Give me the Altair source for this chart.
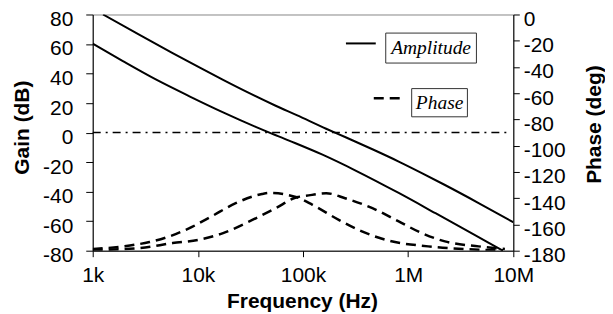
import altair as alt
import pandas as pd

# ---- data ----
freq_hi = [1253, 2818, 5754, 10233, 17378, 30903, 54954, 87096, 165959, 251189, 457088, 812831, 1348963, 2238721, 4677351, 10000000]
gain_hi = [80, 66.0, 53.9, 44.3, 35.7, 26.7, 18.2, 11.8, 2.6, -3.0, -11.3, -19.6, -27.4, -35.5, -47.7, -60.7]

freq_lo = [1000, 1936, 3981, 8318, 17179, 35481, 44259, 73621, 151356, 316228, 812831, 1819701, 4365158, 6918310, 7943282]
gain_lo = [60.2, 48.4, 36.0, 24.6, 13.9, 3.9, 1.0, -5.4, -14.8, -25.7, -40.9, -54.6, -69.6, -77.6, -80]

pfreq_lo = [1000, 1950, 3467, 5370, 8318, 13804, 22909, 40738, 47863, 87096, 123027, 218776, 363078, 660693, 1548817, 4677351, 8000000]
phase_lo = [-178.7, -176.7, -173.4, -169.1, -162.8, -153.4, -143.8, -136.8, -136.0, -139.3, -145, -156.5, -165.3, -172.4, -176.7, -179.2, -179.7]

pfreq_hi = [1000, 2818, 5754, 10233, 17378, 30903, 54954, 87096, 107152, 165959, 251189, 457088, 812831, 1348963, 2238721, 4677351, 8317638]
phase_hi = [-179.5, -178, -174.2, -171.7, -166.6, -157.7, -147.6, -139.3, -138.2, -136.2, -140, -147.6, -157.7, -166.6, -172.9, -176.7, -178.7]

x_ticks = [1000, 10000, 100000, 1000000, 10000000]
gain_ticks = [-80, -60, -40, -20, 0, 20, 40, 60, 80]
phase_ticks = [-180, -160, -140, -120, -100, -80, -60, -40, -20, 0]

# legend placement (in data units)
leg_labels = ["Amplitude", "Phase"]
leg_box_f = [612000, 1080000]
leg_box_f2 = [4460000, 3660000]
leg_box_g = [67.4, 29.8]
leg_box_g2 = [47.1, 10.7]
leg_text_f = [1652000, 1991000]
leg_text_g = [57.2, 20.3]
leg_line_f = [256000, 471000]
leg_line_f2 = [492000, 849000]
leg_line_g = [60.4, 23.3]

zero_f = [1000]
zero_f2 = [8600000]
zero_g = [0]

# ---- tables ----
amp = pd.concat([
    pd.DataFrame({"f": freq_hi, "gain": gain_hi, "s": "hi"}),
    pd.DataFrame({"f": freq_lo, "gain": gain_lo, "s": "lo"}),
])
ph = pd.concat([
    pd.DataFrame({"f": pfreq_lo, "phase": phase_lo, "s": "lo"}),
    pd.DataFrame({"f": pfreq_hi, "phase": phase_hi, "s": "hi"}),
])
zero_df = pd.DataFrame({"f": zero_f, "f2": zero_f2, "gain": zero_g})
box_df = pd.DataFrame({"f": leg_box_f, "f2": leg_box_f2, "gain": leg_box_g, "g2": leg_box_g2})
text_df = pd.DataFrame({"f": leg_text_f, "gain": leg_text_g, "label": leg_labels})
line_df = pd.DataFrame({"f": leg_line_f, "f2": leg_line_f2, "gain": leg_line_g, "label": leg_labels})

W, H = 422, 237
xscale = alt.Scale(type="log", domain=[1000, 10000000], nice=False)
gscale = alt.Scale(domain=[-80, 80], nice=False, zero=False)
pscale = alt.Scale(domain=[-180, 0], nice=False, zero=False)

xaxis = alt.Axis(
    values=x_ticks,
    labelExpr="datum.value >= 1000000 ? format(datum.value/1000000,'d') + 'M' : format(datum.value/1000,'d') + 'k'",
    title="Frequency (Hz)", tickSize=6, labelPadding=8,
    titleX=210, titleY=57, titleBaseline="alphabetic", titleAlign="center",
    labelFlush=False, labelOverlap=False,
)
gaxis = alt.Axis(
    values=gain_ticks, labelExpr="'' + datum.value",
    title="Gain (dB)", orient="left", tickSize=7, labelPadding=13,
    titleX=-64, titleY=113, titleAngle=270, titleAlign="center", titleBaseline="alphabetic",
    labelOffset=5, labelFlush=False, labelOverlap=False,
)
paxis = alt.Axis(
    values=phase_ticks, labelExpr="'' + datum.value",
    title="Phase (deg)", orient="right", tickSize=6, labelPadding=4,
    titleX=87, titleY=110, titleAngle=270, titleAlign="center", titleBaseline="alphabetic",
    labelOffset=5, labelFlush=False, labelOverlap=False,
)

X = alt.X("f:Q", scale=xscale, axis=xaxis)
Yg = alt.Y("gain:Q", scale=gscale, axis=gaxis)

amp_lines = alt.Chart(amp).mark_line(color="black", strokeWidth=2, interpolate="monotone", clip=True).encode(
    x=X, y=Yg, detail="s:N",
)
zero_line = alt.Chart(zero_df).mark_rule(color="black", strokeWidth=1.5, strokeDash=[8, 5, 2, 5]).encode(
    x=X, x2="f2:Q", y=Yg,
)
boxes = alt.Chart(box_df).mark_rect(fill="white", stroke="#333333", strokeWidth=1).encode(
    x=X, x2="f2:Q", y=Yg, y2="g2:Q",
)
texts = alt.Chart(text_df).mark_text(
    font="Liberation Serif", fontStyle="italic", fontSize=19.5, color="black",
    align="center", baseline="middle",
).encode(
    x=X, y=Yg, text="label:N",
)
amp_key = alt.Chart(line_df).transform_filter(alt.datum.label == "Amplitude").mark_rule(
    color="black", strokeWidth=2).encode(
    x=X, x2="f2:Q", y=Yg,
)
ph_key = alt.Chart(line_df).transform_filter(alt.datum.label == "Phase").mark_rule(
    color="black", strokeWidth=2.5, strokeDash=[10, 6]).encode(
    x=X, x2="f2:Q", y=Yg,
)

gain_layer = alt.layer(zero_line, amp_lines, boxes, texts, amp_key, ph_key)

phase_lines = alt.Chart(ph).mark_line(
    color="black", strokeWidth=2.5, strokeDash=[10, 6], interpolate="monotone", clip=True).encode(
    x=X,
    y=alt.Y("phase:Q", scale=pscale, axis=paxis),
    detail="s:N",
)

chart = alt.layer(gain_layer, phase_lines).resolve_scale(y="independent").properties(
    width=W, height=H,
    autosize="none",
    padding={"left": 85, "top": 6, "right": 92, "bottom": 62},
).configure_view(
    stroke="#888888", strokeWidth=1,
).configure_axis(
    labelFont="Liberation Sans", labelFontSize=21, labelColor="black",
    titleFont="Liberation Sans", titleFontSize=21, titleFontWeight="bold", titleColor="black",
    domainColor="black", domainWidth=1, tickColor="black", tickWidth=1, grid=False,
)

chart.save("out.html", embed_options={"renderer": "svg", "actions": False})
